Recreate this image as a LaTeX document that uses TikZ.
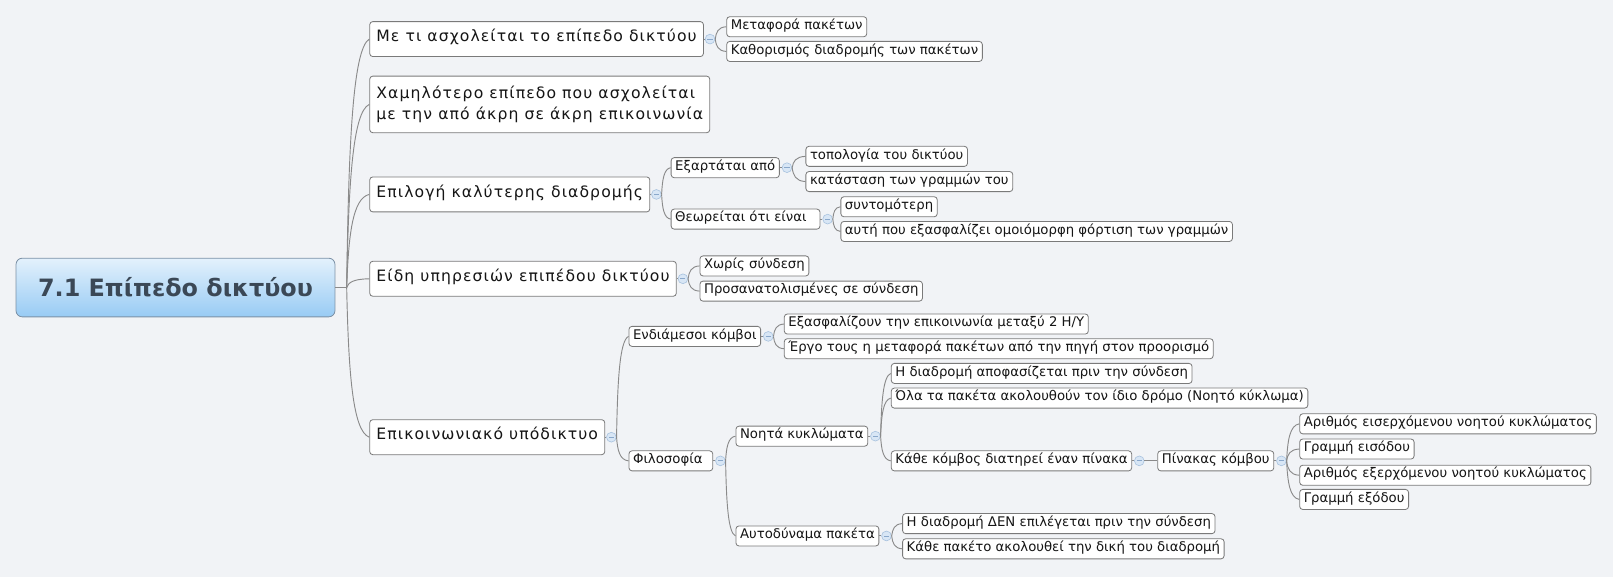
\documentclass[tikz,border=0pt]{standalone}
\usepackage{fontspec}
\setmainfont{DejaVu Sans}
\newfontfamily\lonefont[LetterSpace=7]{DejaVu Sans}
\usetikzlibrary{calc}
\definecolor{bg}{HTML}{F1F3F6}
\definecolor{boxc}{HTML}{7A7A7A}
\definecolor{connc}{HTML}{8A8A8A}
\definecolor{mkf}{HTML}{D8E6F5}
\definecolor{mkd}{HTML}{A9C3DF}
\definecolor{mkm}{HTML}{8AA8CB}
\definecolor{rootT}{HTML}{E3F1FC}
\definecolor{rootB}{HTML}{98CBF4}
\definecolor{rootD}{HTML}{7C91A6}
\definecolor{rootTxt}{HTML}{3B4856}
\definecolor{txt}{HTML}{151515}
\newcommand\fan[2]{\draw[conn] let \p1=(#1), \p2=(#2.west) in (\p1) .. controls ({\x1+0.08*(\x2-\x1)},{\y1+0.55*(\y2-\y1)}) and ({\x1+0.25*(\x2-\x1)},{\y2-0.04*(\y2-\y1)}) .. (\p2);}
\begin{document}
\begin{tikzpicture}[x=1pt,y=-1pt,
  box/.style={draw=boxc, fill=white, rounded corners=3pt, line width=0.8pt, inner ysep=0pt, anchor=west, text=txt, text height=0.74em, text depth=0.22em},
  lone/.style={box, minimum height=34pt, inner xsep=6.5pt, font=\lonefont\fontsize{15.2}{21}\selectfont},
  ltwo/.style={box, minimum height=19.5pt, inner xsep=4pt, font=\fontsize{12.9}{15}\selectfont},
  mk/.style={circle, draw=mkd, fill=mkf, line width=0.6pt, minimum size=9.5pt, inner sep=0pt,
    path picture={\draw[mkm, line width=0.7pt] ($(path picture bounding box.center)+(-2.5pt,0)$) -- ($(path picture bounding box.center)+(2.5pt,0)$);}},
  conn/.style={draw=connc, line width=0.9pt},
  rootbox/.style={draw=rootD, line width=0.8pt, rounded corners=6pt, top color=rootT, bottom color=rootB,
    minimum width=310pt, minimum height=57pt, font=\bfseries\fontsize{23.2}{28}\selectfont, text=rootTxt}
]
\fill[bg] (0,0) rectangle (1568,561);
\useasboundingbox (0,0) rectangle (1568,561);

% root
\node[rootbox] (root) at (170.6,279.5) {7.1 Επίπεδο δικτύου};
\coordinate (J0) at ($(root.east)+(11,0)$);

% level 1
\node[lone] (A) at (359,38) {Με τι ασχολείται το επίπεδο δικτύου};
\node[lone, align=left, minimum height=55pt, text height=, text depth=] (B) at (359,101.5) {Χαμηλότερο επίπεδο που ασχολείται\\με την από άκρη σε άκρη επικοινωνία};
\node[lone] (C) at (359,189) {Επιλογή καλύτερης διαδρομής};
\node[lone] (D) at (359,271) {Είδη υπηρεσιών επιπέδου δικτύου};
\node[lone] (E) at (359,425) {Επικοινωνιακό υπόδικτυο};

% level 2+
\node[ltwo] (A1) at (706,26) {Μεταφορά πακέτων};
\node[ltwo] (A2) at (706,50) {Καθορισμός διαδρομής των πακέτων};
\node[ltwo] (C1) at (652,163) {Εξαρτάται από};
\node[ltwo] (C2) at (652,213) {Θεωρείται ότι είναι\hspace*{9pt}};
\node[ltwo] (C11) at (783,152) {τοπολογία του δικτύου};
\node[ltwo] (C12) at (783,176.5) {κατάσταση των γραμμών του};
\node[ltwo] (C21) at (817,201) {συντομότερη};
\node[ltwo] (C22) at (817,225) {αυτή που εξασφαλίζει ομοιόμορφη φόρτιση των γραμμών};
\node[ltwo] (D1) at (680,258.5) {Χωρίς σύνδεση};
\node[ltwo] (D2) at (680,283) {Προσανατολισμένες σε σύνδεση};
\node[ltwo] (E1) at (611,327) {Ενδιάμεσοι κόμβοι};
\node[ltwo] (E2) at (611,448) {Φιλοσοφία\hspace*{6pt}};
\node[ltwo] (E11) at (762,315) {Εξασφαλίζουν την επικοινωνία μεταξύ 2 Η/Υ};
\node[ltwo] (E12) at (762,339) {Έργο τους η μεταφορά πακέτων από την πηγή στον προορισμό};
\node[ltwo] (E21) at (715,424) {Νοητά κυκλώματα};
\node[ltwo] (E22) at (715,521) {Αυτοδύναμα πακέτα};
\node[ltwo] (E211) at (866,363) {Η διαδρομή αποφασίζεται πριν την σύνδεση};
\node[ltwo] (E212) at (866,387) {Όλα τα πακέτα ακολουθούν τον ίδιο δρόμο (Νοητό κύκλωμα)};
\node[ltwo] (E213) at (866,448) {Κάθε κόμβος διατηρεί έναν πίνακα};
\node[ltwo] (P) at (1125,448) {Πίνακας κόμβου};
\node[ltwo] (P1) at (1263,412) {Αριθμός εισερχόμενου νοητού κυκλώματος};
\node[ltwo] (P2) at (1263,436.5) {Γραμμή εισόδου};
\node[ltwo] (P3) at (1263,462) {Αριθμός εξερχόμενου νοητού κυκλώματος};
\node[ltwo] (P4) at (1263,485.5) {Γραμμή εξόδου};
\node[ltwo] (E221) at (877,509) {Η διαδρομή ΔΕΝ επιλέγεται πριν την σύνδεση};
\node[ltwo] (E222) at (877,533.5) {Κάθε πακέτο ακολουθεί την δική του διαδρομή};

% markers
\node[mk] (mA) at ($(A.east)+(6,0)$) {};
\node[mk] (mC) at ($(C.east)+(6,0)$) {};
\node[mk] (mD) at ($(D.east)+(6,0)$) {};
\node[mk] (mE) at ($(E.east)+(6,0)$) {};
\node[mk] (mC1) at ($(C1.east)+(7,0)$) {};
\node[mk] (mC2) at ($(C2.east)+(7,0)$) {};
\node[mk] (mE1) at ($(E1.east)+(7,0)$) {};
\node[mk] (mE2) at ($(E2.east)+(7,0)$) {};
\node[mk] (mE21) at ($(E21.east)+(7,0)$) {};
\node[mk] (mE22) at ($(E22.east)+(7,0)$) {};
\node[mk] (mE213) at ($(E213.east)+(7,0)$) {};
\node[mk] (mP) at ($(P.east)+(7,0)$) {};

% connectors
\draw[conn] (root.east) -- (J0);
\foreach \c in {A,B,C,D,E} {\fan{J0}{\c}}
\foreach \n in {A,C,D,E,C1,C2,E1,E2,E21,E22,E213,P} {\draw[conn] (\n.east) -- (m\n.west);}
\fan{mA.east}{A1} \fan{mA.east}{A2}
\fan{mC.east}{C1} \fan{mC.east}{C2}
\fan{mC1.east}{C11} \fan{mC1.east}{C12}
\fan{mC2.east}{C21} \fan{mC2.east}{C22}
\fan{mD.east}{D1} \fan{mD.east}{D2}
\fan{mE.east}{E1} \fan{mE.east}{E2}
\fan{mE1.east}{E11} \fan{mE1.east}{E12}
\fan{mE2.east}{E21} \fan{mE2.east}{E22}
\fan{mE21.east}{E211} \fan{mE21.east}{E212} \fan{mE21.east}{E213}
\draw[conn] (mE213.east) -- (P.west);
\fan{mP.east}{P1} \fan{mP.east}{P2} \fan{mP.east}{P3} \fan{mP.east}{P4}
\fan{mE22.east}{E221} \fan{mE22.east}{E222}
\end{tikzpicture}
\end{document}
